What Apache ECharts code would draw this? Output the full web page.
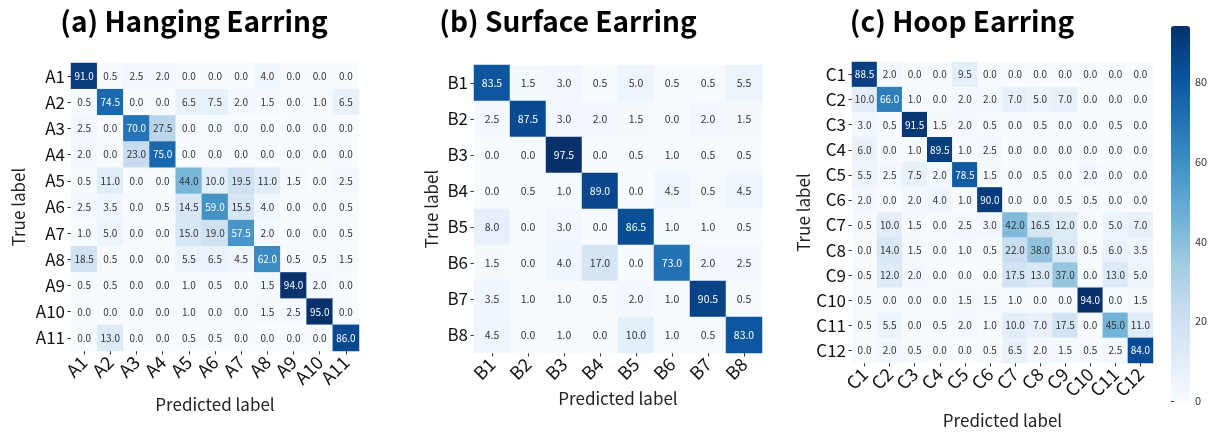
<!DOCTYPE html>
<html>
<head>
<meta charset="utf-8">
<title>Confusion matrices</title>
<script src="https://cdn.jsdelivr.net/npm/echarts@6/dist/echarts.min.js"></script>
<style>
  html, body { margin: 0; padding: 0; background: #fff; }
  #chart { width: 1220px; height: 434px; }
</style>
</head>
<body>
<div id="chart"></div>
<script>
// Class names for each earring type
const labelsA = ['A1','A2','A3','A4','A5','A6','A7','A8','A9','A10','A11'];
const labelsB = ['B1','B2','B3','B4','B5','B6','B7','B8'];
const labelsC = ['C1','C2','C3','C4','C5','C6','C7','C8','C9','C10','C11','C12'];

// Rows: true label, columns: predicted label (percent)
const matrixA = [
  [91.0, 0.5, 2.5, 2.0, 0.0, 0.0, 0.0, 4.0, 0.0, 0.0, 0.0],
  [0.5, 74.5, 0.0, 0.0, 6.5, 7.5, 2.0, 1.5, 0.0, 1.0, 6.5],
  [2.5, 0.0, 70.0, 27.5, 0.0, 0.0, 0.0, 0.0, 0.0, 0.0, 0.0],
  [2.0, 0.0, 23.0, 75.0, 0.0, 0.0, 0.0, 0.0, 0.0, 0.0, 0.0],
  [0.5, 11.0, 0.0, 0.0, 44.0, 10.0, 19.5, 11.0, 1.5, 0.0, 2.5],
  [2.5, 3.5, 0.0, 0.5, 14.5, 59.0, 15.5, 4.0, 0.0, 0.0, 0.5],
  [1.0, 5.0, 0.0, 0.0, 15.0, 19.0, 57.5, 2.0, 0.0, 0.0, 0.5],
  [18.5, 0.5, 0.0, 0.0, 5.5, 6.5, 4.5, 62.0, 0.5, 0.5, 1.5],
  [0.5, 0.5, 0.0, 0.0, 1.0, 0.5, 0.0, 1.5, 94.0, 2.0, 0.0],
  [0.0, 0.0, 0.0, 0.0, 1.0, 0.0, 0.0, 1.5, 2.5, 95.0, 0.0],
  [0.0, 13.0, 0.0, 0.0, 0.5, 0.5, 0.0, 0.0, 0.0, 0.0, 86.0]
];
const matrixB = [
  [83.5, 1.5, 3.0, 0.5, 5.0, 0.5, 0.5, 5.5],
  [2.5, 87.5, 3.0, 2.0, 1.5, 0.0, 2.0, 1.5],
  [0.0, 0.0, 97.5, 0.0, 0.5, 1.0, 0.5, 0.5],
  [0.0, 0.5, 1.0, 89.0, 0.0, 4.5, 0.5, 4.5],
  [8.0, 0.0, 3.0, 0.0, 86.5, 1.0, 1.0, 0.5],
  [1.5, 0.0, 4.0, 17.0, 0.0, 73.0, 2.0, 2.5],
  [3.5, 1.0, 1.0, 0.5, 2.0, 1.0, 90.5, 0.5],
  [4.5, 0.0, 1.0, 0.0, 10.0, 1.0, 0.5, 83.0]
];
const matrixC = [
  [88.5, 2.0, 0.0, 0.0, 9.5, 0.0, 0.0, 0.0, 0.0, 0.0, 0.0, 0.0],
  [10.0, 66.0, 1.0, 0.0, 2.0, 2.0, 7.0, 5.0, 7.0, 0.0, 0.0, 0.0],
  [3.0, 0.5, 91.5, 1.5, 2.0, 0.5, 0.0, 0.5, 0.0, 0.0, 0.5, 0.0],
  [6.0, 0.0, 1.0, 89.5, 1.0, 2.5, 0.0, 0.0, 0.0, 0.0, 0.0, 0.0],
  [5.5, 2.5, 7.5, 2.0, 78.5, 1.5, 0.0, 0.5, 0.0, 2.0, 0.0, 0.0],
  [2.0, 0.0, 2.0, 4.0, 1.0, 90.0, 0.0, 0.0, 0.5, 0.5, 0.0, 0.0],
  [0.5, 10.0, 1.5, 0.0, 2.5, 3.0, 42.0, 16.5, 12.0, 0.0, 5.0, 7.0],
  [0.0, 14.0, 1.5, 0.0, 1.0, 0.5, 22.0, 38.0, 13.0, 0.5, 6.0, 3.5],
  [0.5, 12.0, 2.0, 0.0, 0.0, 0.0, 17.5, 13.0, 37.0, 0.0, 13.0, 5.0],
  [0.5, 0.0, 0.0, 0.0, 1.5, 1.5, 1.0, 0.0, 0.0, 94.0, 0.0, 1.5],
  [0.5, 5.5, 0.0, 0.5, 2.0, 1.0, 10.0, 7.0, 17.5, 0.0, 45.0, 11.0],
  [0.0, 2.0, 0.5, 0.0, 0.0, 0.5, 6.5, 2.0, 1.5, 0.5, 2.5, 84.0]
];

const titles = ['(a) Hanging Earring', '(b) Surface Earring', '(c) Hoop Earring'];
const colorbarTicks = [0, 20, 40, 60, 80];

// Blues colour ramp
const blues = ['#f7fbff','#deebf7','#c6dbef','#9ecae1','#6baed6','#4292c6','#2171b5','#08519c','#08306b'];
const FONT = '"Noto Sans CJK JP", "Noto Sans", sans-serif';

const panels = [
  { labels: labelsA, matrix: matrixA, grid: { left: 71, top: 63, width: 288, height: 288 },
    cellFont: 10, xNameGap: 45, yNameGap: 44, title: { x: 194, y: 21 } },
  { labels: labelsB, matrix: matrixB, grid: { left: 474, top: 65, width: 288, height: 288 },
    cellFont: 10.5, xNameGap: 37, yNameGap: 34, title: { x: 568, y: 21 } },
  { labels: labelsC, matrix: matrixC, grid: { left: 852, top: 62, width: 301, height: 301 },
    cellFont: 10, xNameGap: 49, yNameGap: 38, title: { x: 962, y: 21 } }
];

function maxOf(m) { return Math.max.apply(null, m.map(r => Math.max.apply(null, r))); }

const grids = [], xAxes = [], yAxes = [], series = [], visualMaps = [], graphics = [];

panels.forEach((p, i) => {
  const vmax = maxOf(p.matrix);
  grids.push(p.grid);
  xAxes.push({
    type: 'category', gridIndex: i, data: p.labels,
    name: 'Predicted label', nameLocation: 'middle', nameGap: p.xNameGap,
    nameTextStyle: { fontSize: 17, color: '#222', fontFamily: FONT },
    axisLine: { show: false }, splitLine: { show: false },
    axisTick: { show: true, alignWithLabel: true, interval: 0, length: 3.5, lineStyle: { color: '#333' } },
    axisLabel: { rotate: 45, interval: 0, hideOverlap: false, fontSize: 18, color: '#111',
                 margin: 8, fontFamily: FONT }
  });
  yAxes.push({
    type: 'category', gridIndex: i, data: p.labels, inverse: true,
    name: 'True label', nameLocation: 'middle', nameGap: p.yNameGap, nameRotate: 90,
    nameTextStyle: { fontSize: 17, color: '#222', fontFamily: FONT },
    axisLine: { show: false }, splitLine: { show: false },
    axisTick: { show: true, alignWithLabel: true, interval: 0, length: 3.5, lineStyle: { color: '#333' } },
    axisLabel: { interval: 0, fontSize: 17, color: '#111', margin: 6, fontFamily: FONT }
  });
  const data = [];
  p.matrix.forEach((row, r) => {
    row.forEach((v, c) => {
      data.push({
        value: [c, r, v],
        label: { color: v / vmax >= 0.5 ? '#ffffff' : '#333333' }
      });
    });
  });
  series.push({
    type: 'heatmap', xAxisIndex: i, yAxisIndex: i, data: data,
    label: {
      show: true, fontSize: p.cellFont, fontFamily: FONT,
      formatter: prm => prm.value[2].toFixed(1)
    },
    emphasis: { disabled: true }
  });
  visualMaps.push({
    type: 'continuous', seriesIndex: i, dimension: 2, min: 0, max: vmax,
    inRange: { color: blues }, show: i === 2,
    orient: 'vertical', left: 1171, top: 26, itemWidth: 19, itemHeight: 375,
    padding: 0, text: null, calculable: false, hoverLink: false
  });
  graphics.push({
    type: 'text', x: p.title.x, y: p.title.y,
    style: { text: titles[i], font: 'bold 28px ' + FONT, fill: '#000',
             textAlign: 'center', textVerticalAlign: 'middle' }
  });
});

// Colour bar scale: an invisible grid beside the visual map carries the tick labels
grids.push({ left: 1171, top: 26, width: 19, height: 375 });
xAxes.push({ type: 'value', gridIndex: 3, show: false, min: 0, max: 1 });
yAxes.push({
  type: 'value', gridIndex: 3, position: 'right', min: 0, max: maxOf(matrixC), interval: 20,
  axisLine: { show: false }, splitLine: { show: false },
  axisTick: { show: true, length: 3, lineStyle: { color: '#333' },
              customValues: colorbarTicks },
  axisLabel: { fontSize: 11, color: '#333', margin: 5, fontFamily: FONT,
               customValues: colorbarTicks }
});

const chart = echarts.init(document.getElementById('chart'), null, { renderer: 'canvas' });
chart.setOption({
  backgroundColor: '#ffffff',
  animation: false,
  grid: grids,
  xAxis: xAxes,
  yAxis: yAxes,
  visualMap: visualMaps,
  series: series,
  graphic: graphics
});
</script>
</body>
</html>
